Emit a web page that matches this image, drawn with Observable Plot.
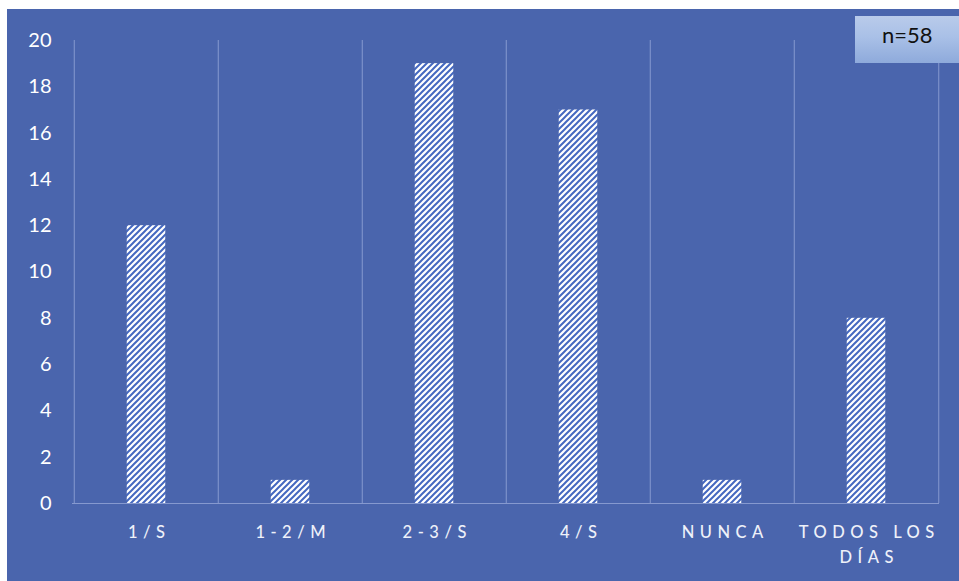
<!DOCTYPE html>
<html>
<head>
<meta charset="utf-8">
<script src="https://cdn.jsdelivr.net/npm/d3@7"></script>
<script src="https://cdn.jsdelivr.net/npm/@observablehq/plot@0.6"></script>
<style>
  body { margin: 0; background: #fff; }
  #wrap { position: relative; width: 959px; height: 581px; background: #fff; overflow: hidden; }
  #panel { position: absolute; left: 7px; top: 9px; width: 952px; height: 572px; background: #4a65ad; }
  #nbox {
    position: absolute; left: 848px; top: 7px; width: 110px; height: 47px;
    background: linear-gradient(to bottom, #b9cbea 0%, #a9c0e7 45%, #8eaadb 100%);
    font-family: Lato, "Noto Sans", sans-serif; font-size: 22px; color: #111;
    box-sizing: border-box; padding: 5px 0 0 27px;
  }
</style>
</head>
<body>
<div id="wrap"><div id="panel"><div id="nbox"></div></div></div>
<script>
// Frequency categories, counts and axis labels
const categories = ["1/S", "1-2/M", "2-3/S", "4/S", "NUNCA", "TODOS LOS DÍAS"];
const counts = [12, 1, 19, 17, 1, 8];
const tickLabels = ["1/S", "1-2/M", "2-3/S", "4/S", "NUNCA", "TODOS LOS\nDÍAS"];
const yTicks = [0, 2, 4, 6, 8, 10, 12, 14, 16, 18, 20];
const sampleNote = "n=58";

const data = categories.map((c, i) => ({category: c, count: counts[i]}));

const W = 952, H = 572;
const mL = 65, mR = 20, mT = 31, mB = 78;
const bw = (W - mL - mR) / categories.length;   // band width
const barW = 39;
const inset = (bw - barW) / 2;
const gridColor = "#8699cf";

const plot = Plot.plot({
  width: W,
  height: H,
  marginLeft: mL,
  marginRight: mR,
  marginTop: mT,
  marginBottom: mB,
  style: {background: "transparent", color: "#ffffff", fontFamily: "Lato, 'Noto Sans', sans-serif"},
  x: {domain: categories, padding: 0, label: null},
  y: {domain: [0, 20], label: null},
  marks: [
    // vertical separators between categories
    Plot.ruleX(categories, {x: d => d, y1: 0, y2: 20, dx: -bw / 2, stroke: gridColor, strokeWidth: 1}),
    Plot.ruleX([categories[categories.length - 1]], {x: d => d, y1: 0, y2: 20, dx: bw / 2, stroke: gridColor, strokeWidth: 1}),
    Plot.ruleY([0], {stroke: gridColor, strokeWidth: 1.2}),
    Plot.barY(data, {x: "category", y: "count", fill: "url(#hatch)", insetLeft: inset, insetRight: inset}),
    Plot.axisY({ticks: yTicks, tickSize: 0, tickPadding: 21, fontSize: 20, label: null}),
    Plot.axisX({tickSize: 0, tickPadding: 17, fontSize: 16.5, lineHeight: 1.5, label: null,
      tickFormat: (d) => tickLabels[categories.indexOf(d)]})
  ]
});

// diagonal hatch pattern for bars
const svg = d3.select(plot);
const defs = svg.insert("defs", ":first-child");
const pat = defs.append("pattern")
  .attr("id", "hatch")
  .attr("patternUnits", "userSpaceOnUse")
  .attr("width", 6).attr("height", 6);
pat.append("rect").attr("width", 6).attr("height", 6).attr("fill", "#ffffff");
pat.append("path")
  .attr("d", "M-1,1 L1,-1 M0,6 L6,0 M5,7 L7,5")
  .attr("stroke", "#4468c0")
  .attr("stroke-width", 2);

// spaced-out category labels
svg.selectAll("g[aria-label='x-axis tick label'] text")
  .style("letter-spacing", "5.5px")
  .style("font-weight", "500")
  .attr("fill", "#eef1f9");
svg.selectAll("g[aria-label='x-axis tick label'] text")
  .each(function () {
    const t = d3.select(this);
    const tr = t.attr("transform") || "";
    t.attr("transform", tr + " translate(2.75,0)");
  });

document.getElementById("panel").prepend(plot);
document.getElementById("nbox").textContent = sampleNote;
</script>
</body>
</html>
